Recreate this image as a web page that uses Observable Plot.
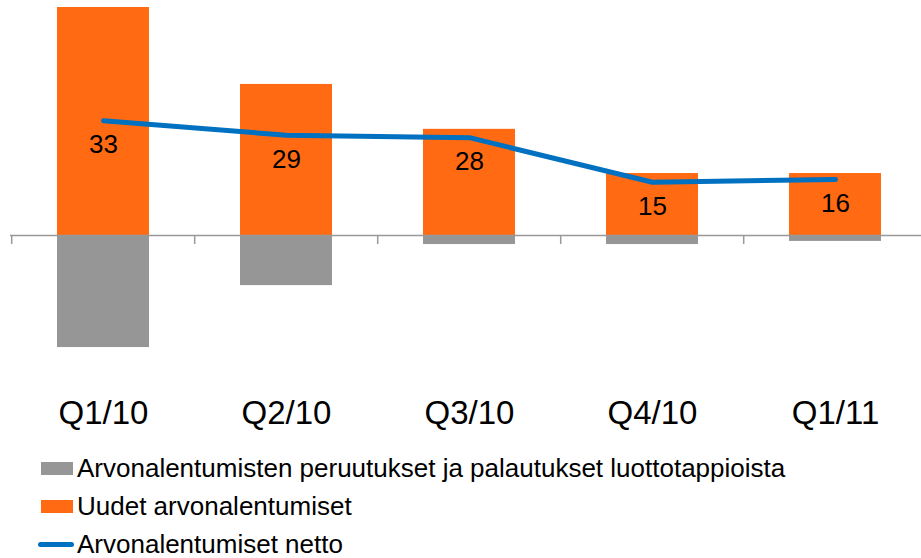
<!DOCTYPE html>
<html>
<head>
<meta charset="utf-8">
<script src="https://cdn.jsdelivr.net/npm/d3@7"></script>
<script src="https://cdn.jsdelivr.net/npm/@observablehq/plot@0.6"></script>
<style>
  body { margin: 0; background: #fff; font-family: "Liberation Sans", Arial, sans-serif; }
  #wrap { width: 921px; height: 558px; position: relative; overflow: hidden; }
  #chart svg { display: block; }
  #legend { margin-top: 9px; }
  .row { display: flex; align-items: center; height: 38px; line-height: 38px; font-size: 26px; color: #000; white-space: nowrap; }
  .sw { width: 32px; height: 13px; margin-left: 41px; margin-right: 4px; flex: none; }
  .ln { width: 36px; height: 5px; border-radius: 3px; margin-left: 38px; margin-right: 3px; flex: none; }
</style>
</head>
<body>
<div id="wrap">
  <div id="chart"></div>
  <div id="legend"></div>
</div>
<script>
const categories = ["Q1/10", "Q2/10", "Q3/10", "Q4/10", "Q1/11"];
const newImpairments = [65.5, 43.4, 30.5, 17.8, 17.8];
const reversals = [-32.2, -14.4, -2.6, -2.6, -1.7];
const net = [33.0, 28.8, 28.1, 15.3, 16.1];
const netLabels = ["33", "29", "28", "15", "16"];
const seriesNames = [
  "Arvonalentumisten peruutukset ja palautukset luottotappioista",
  "Uudet arvonalentumiset",
  "Arvonalentumiset netto"
];
const colors = { reversal: "#969696", newImp: "#FF6A12", net: "#0070C0" };

const rows = categories.map((c, i) => ({
  q: c, newImp: newImpairments[i], rev: reversals[i], net: net[i], label: netLabels[i]
}));

const xRange = [10, 928];
const halfStep = (xRange[1] - xRange[0]) / categories.length / 2;

const chart = Plot.plot({
  width: 921,
  height: 440,
  marginTop: 0,
  marginLeft: 10,
  marginRight: 0,
  marginBottom: 83,
  style: { fontFamily: "'Liberation Sans', Arial, sans-serif", background: "#fff", color: "#000" },
  x: { domain: categories, range: xRange, paddingInner: 0.5, paddingOuter: 0.25, label: null },
  y: { domain: [-35, 67], range: [356.8, 1.8], axis: null },
  marks: [
    Plot.barY(rows, { x: "q", y: "rev", fill: colors.reversal }),
    Plot.barY(rows, { x: "q", y: "newImp", fill: colors.newImp }),
    Plot.ruleY([0], { stroke: "#999", strokeWidth: 1.5 }),
    Plot.ruleX(categories, { x: d => d, dx: -halfStep, y1: 0, y2: 0, insetBottom: -9, stroke: "#999", strokeWidth: 1.5 }),
    Plot.line(rows, { x: "q", y: "net", stroke: colors.net, strokeWidth: 5, strokeLinecap: "round", strokeLinejoin: "round" }),
    Plot.text(rows, { x: "q", y: "net", text: "label", dy: 24, fontSize: 26, fill: "#000" }),
    Plot.axisX({ anchor: "bottom", tickSize: 0, tickPadding: 43, fontSize: 33, fill: "#000", label: null })
  ]
});
document.getElementById("chart").appendChild(chart);

const legend = document.getElementById("legend");
const legendItems = [
  { name: seriesNames[0], color: colors.reversal, kind: "sw" },
  { name: seriesNames[1], color: colors.newImp, kind: "sw" },
  { name: seriesNames[2], color: colors.net, kind: "ln" }
];
for (const it of legendItems) {
  const row = document.createElement("div");
  row.className = "row";
  const s = document.createElement("span");
  s.className = it.kind;
  s.style.background = it.color;
  const t = document.createElement("span");
  t.textContent = it.name;
  row.appendChild(s);
  row.appendChild(t);
  legend.appendChild(row);
}
</script>
</body>
</html>
